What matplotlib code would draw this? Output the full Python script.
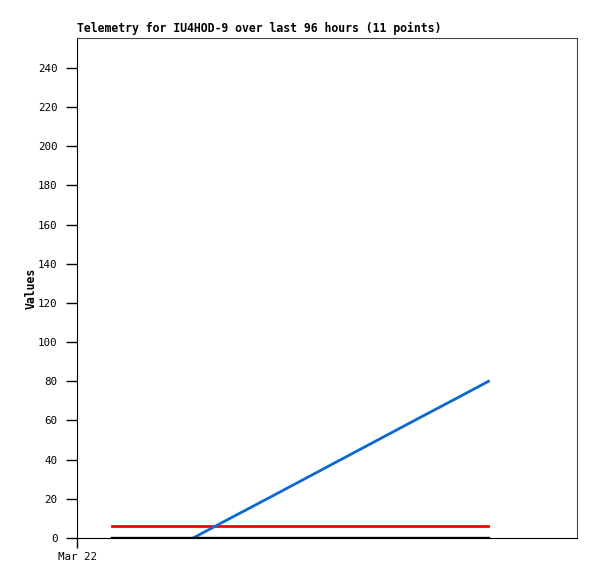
from datetime import datetime, timedelta
import numpy as np
import matplotlib
matplotlib.use('Agg')
import matplotlib.pyplot as pl
import matplotlib.dates as mdates

START = datetime(2024, 3, 22)

# hours after Mar 22 00:00 for the 11 telemetry points
hours = [6.7, 14.0, 22.3, 29.5, 37.0, 44.0, 51.5, 58.5, 65.5, 72.5, 79.0]
red_vals = [6, 6, 6, 6, 6, 6, 6, 6, 6, 6, 6]
black_vals = [0, 0, 0, 0, 0, 0, 0, 0, 0, 0, 0]
blue_vals = [np.nan, np.nan, 0, 10.2, 20.7, 30.6, 41.2, 51.1, 61.0, 70.8, 80.0]
yticks = list(range(0, 241, 20))
xtick_labels = ['Mar 22']


def plotdata():
    dates = [START + timedelta(hours=h) for h in hours]
    fig = pl.figure(figsize=(5.97, 5.79), dpi=100)
    ax = fig.add_axes([77/597, 41/579, 500/597, 500/579])

    ax.plot(dates, black_vals, color='black', lw=2.4, zorder=3)
    ax.plot(dates, red_vals, color='#ff0000', lw=2.0)
    ax.plot(dates, blue_vals, color='#0a6ad2', lw=2.0)

    ax.set_xlim(START, START + timedelta(hours=96))
    ax.set_ylim(0, 255.3)
    ax.set_yticks(yticks)
    ax.set_xticks([START])
    ax.set_xticklabels(xtick_labels)

    mono = 'DejaVu Sans Mono'
    for lab in ax.get_xticklabels() + ax.get_yticklabels():
        lab.set_fontfamily(mono)
        lab.set_fontsize(7.8)
    ax.tick_params(axis='y', direction='out', length=8, width=1, pad=6)
    ax.tick_params(axis='x', direction='out', length=7, width=1, pad=3)

    for s in ['top', 'right']:
        ax.spines[s].set_color('#444444')
    for s in ['left', 'bottom']:
        ax.spines[s].set_color('black')

    ax.set_ylabel('Values', family=mono, fontsize=8.3, fontweight='bold')
    ax.yaxis.set_label_coords(-0.078, 0.5)
    fig.text(77/597, 1 - 32/579, 'Telemetry for IU4HOD-9 over last 96 hours (11 points)',
             family=mono, fontsize=8.3, fontweight='bold', ha='left', va='baseline')

    pl.savefig('out.png', dpi=100)

if __name__ == "__main__":
    plotdata()
